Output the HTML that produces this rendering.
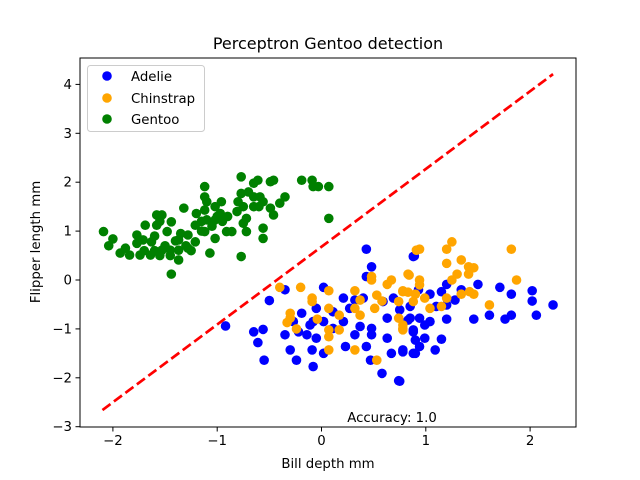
<!DOCTYPE html>
<html><head><meta charset="utf-8"><style>
body{margin:0;background:#fff;}
svg{display:block;font-family:"DejaVu Sans","Liberation Sans",sans-serif;}
</style></head><body>
<svg id="chart" width="640" height="480">
<rect width="640" height="480" fill="#fff"/>
</svg>
<script>
const adelieX=[0.43,0.48,0.43,0.88,-0.5,-0.35,-0.65,-0.56,-0.61,-0.55,-0.30,-0.24,-0.09,-0.08,0.02,0.02,-0.19,-0.35,-0.14,-0.05,-0.08,-0.05,0.21,0.27,0.21,0.23,0.32,0.43,0.48,0.48,0.47,0.58,0.74,0.63,0.63,0.67,0.78,0.88,0.9,0.83,0.69,0.59,0.40,0.32,0.11,0.11,-0.11,-0.27,-0.22,0.37,0.88,0.02,0.89,1.5,1.71,1.82,2.02,2.02,2.22,2.06,1.82,1.76,1.61,1.46,1.2,1.2,1.15,1.28,1.34,1.04,1.04,0.99,0.94,0.85,0.85,0.88,0.99,1.15,1.09,0.94,0.9,0.78,0.75,1.2,1.1,0.93,0.75,-0.92];
const adelieY=[0.63,0.27,0.07,0.48,-0.42,-0.2,-1.06,-1.01,-1.28,-1.64,-1.43,-1.64,-1.43,-1.77,-0.15,-1.5,-0.68,-1.12,-1.12,-0.58,-0.85,-1.19,-0.37,-0.58,-0.85,-1.36,-1.12,-1.36,-0.99,-1.12,-1.64,-1.91,-2.06,-0.78,-1.19,-1.5,-1.47,-1.5,-1.23,-0.82,-0.37,-0.44,-0.37,-0.41,-0.65,-0.99,-0.92,-0.85,-1.06,-0.95,-1.06,-0.85,0.49,-0.09,-0.15,-0.29,-0.22,-0.43,-0.51,-0.72,-0.72,-0.8,-0.72,-0.8,-0.8,-0.09,-0.24,-0.41,-0.2,-0.29,-0.85,-0.92,-0.78,-0.78,-0.54,-1.02,-1.19,-1.21,-1.43,-1.36,-1.5,-1.43,-2.07,-0.51,-0.54,-0.2,-0.61,-0.94];
const chinX=[-0.40,-0.20,-0.09,-0.09,0.07,0.07,-0.30,-0.30,-0.33,-0.24,-0.04,0.17,0.17,0.07,0.07,0.07,0.32,0.37,0.32,0.37,0.32,0.48,0.48,0.53,0.58,0.51,0.63,0.67,0.83,0.78,0.83,0.74,0.74,0.78,0.78,0.53,0.91,0.94,1.25,1.2,1.2,1.34,1.41,1.46,1.41,1.3,1.25,1.82,1.87,1.61,0.84,0.94,0.94,0.78,0.9,0.88,0.99,1.04,1.15,1.2,1.34,1.42,1.46,0.78];
const chinY=[-0.15,-0.15,-0.37,-0.44,-0.22,-0.58,-0.68,-0.78,-0.87,-1.0,-0.8,-0.72,-1.02,-1.02,-1.16,-1.43,-0.22,-0.41,-0.58,-0.72,-1.43,0.07,0.0,-0.31,-0.43,-0.58,-0.09,0.0,0.12,-0.22,-0.25,-0.44,-0.78,-0.92,-1.02,-1.64,0.61,0.63,0.78,0.63,0.34,0.41,0.27,0.25,0.12,0.12,0.0,0.63,0.0,-0.51,0.1,0.0,-0.1,-0.24,-0.29,-0.44,-0.37,-0.58,-0.54,-0.37,-0.29,-0.24,-0.29,-0.99];
const gentooX=[-2.09,-2.0,-2.04,-1.93,-1.88,-1.84,-1.77,-1.77,-1.74,-1.69,-1.71,-1.64,-1.63,-1.58,-1.53,-1.58,-1.53,-1.48,-1.44,-1.45,-1.37,-1.37,-1.37,-1.44,-1.32,-1.28,-1.28,-1.21,-1.21,-1.2,-1.12,-1.12,-1.12,-1.1,-1.12,-1.07,-1.02,-1.02,-1.02,-0.96,-0.97,-0.91,-0.86,-0.81,-0.77,-0.77,-0.75,-0.75,-0.72,-0.77,-0.72,-0.65,-0.61,-0.65,-0.59,-0.65,-0.56,-0.49,-0.46,-0.56,-0.56,-0.49,-0.46,-0.40,-0.35,-0.19,-0.09,-0.08,-0.03,0.07,0.07,-1.6,-1.55,-1.5,-1.45,-1.4,-1.3,-1.25,-1.15,-1.05,-1.0,-0.95,-1.1,-0.9,-1.15,-1.7,-1.6,-1.55,-1.35,-0.8,-0.7,-0.6];
const gentooY=[0.99,0.84,0.70,0.55,0.65,0.51,0.92,0.75,0.51,1.12,0.82,0.51,0.78,1.33,1.33,1.12,0.61,0.99,1.19,0.61,0.82,0.61,0.41,0.12,1.47,0.92,0.65,0.78,1.12,1.36,1.91,1.7,1.43,1.23,0.99,0.55,1.5,1.23,0.85,1.6,1.36,0.99,0.99,1.4,2.11,1.77,1.5,1.16,0.99,0.48,1.26,1.98,2.04,1.7,1.7,1.5,1.6,1.47,1.33,1.06,0.85,2.01,2.04,1.57,1.7,2.04,2.04,1.91,1.91,1.91,1.26,0.6,0.5,0.7,0.5,0.8,0.7,0.6,1.0,1.1,1.3,1.2,1.6,1.3,1.2,0.6,0.9,1.2,0.95,1.6,1.8,1.5];
const xTicks=[-2,-1,0,1,2];
const yTicks=[-3,-2,-1,0,1,2,3,4];
const lineX=[-2.1,2.22];
const lineSlope=1.59, lineIntercept=0.68;

const L=80,R=576,T=58,B=427;
const sx=v=>321.5+v*104.3;
const sy=v=>280-v*48.9;
const NS="http://www.w3.org/2000/svg";
const svg=document.getElementById('chart');
function mk(tag,attrs,parent){const e=document.createElementNS(NS,tag);for(const k in attrs)e.setAttribute(k,attrs[k]);(parent||svg).appendChild(e);return e;}

function drawSeries(xs,ys,color,name){
  const g=mk('g',{});
  
  
  xs.forEach((x,i)=>{
    const c=mk('circle',{cx:sx(x),cy:sy(ys[i]),r:4.8,fill:color},g);
    
    
  });
}
drawSeries(adelieX,adelieY,'#0000ff','adelie');
drawSeries(chinX,chinY,'#ffa500','chinstrap');
drawSeries(gentooX,gentooY,'#008000','gentoo');

const ln=mk('line',{x1:sx(lineX[0]),y1:sy(lineSlope*lineX[0]+lineIntercept),x2:sx(lineX[1]),y2:sy(lineSlope*lineX[1]+lineIntercept),stroke:'#ff0000','stroke-width':2.7,'stroke-dasharray':'10,4.3'});



const frame=mk('rect',{x:L,y:T,width:R-L,height:B-T,fill:'none',stroke:'#000','stroke-width':1});



xTicks.forEach(v=>{
  const x=sx(v);
  const t=mk('line',{x1:x,y1:B,x2:x,y2:B+4.5,stroke:'#000'});
  
  
  const tx=mk('text',{x:x,y:B+18,'text-anchor':'middle','font-size':13.3});
  tx.textContent=(v<0?'\u2212'+(-v):v);
  
  
});
yTicks.forEach(v=>{
  const y=sy(v);
  const t=mk('line',{x1:L-4.5,y1:y,x2:L,y2:y,stroke:'#000'});
  
  
  const tx=mk('text',{x:L-8,y:y+4.5,'text-anchor':'end','font-size':13.3});
  tx.textContent=(v<0?'\u2212'+(-v):v);
  
  
});
</script>
<svg style="position:absolute;left:0;top:0" width="640" height="480">
<text x="328" y="49" text-anchor="middle" font-size="16" font-family="DejaVu Sans, Liberation Sans, sans-serif">Perceptron Gentoo detection</text>
<text x="328" y="468" text-anchor="middle" font-size="13.3" font-family="DejaVu Sans, Liberation Sans, sans-serif">Bill depth mm</text>
<text transform="translate(40,242) rotate(-90)" text-anchor="middle" font-size="13.3" font-family="DejaVu Sans, Liberation Sans, sans-serif">Flipper length mm</text>
<text x="392" y="422" text-anchor="middle" font-size="13.3" font-family="DejaVu Sans, Liberation Sans, sans-serif">Accuracy: 1.0</text>
<g font-family="DejaVu Sans, Liberation Sans, sans-serif" font-size="13.3">
<rect x="87.5" y="65.5" width="117" height="66" rx="3" fill="#fff" fill-opacity="0.8" stroke="#ccc"/>
<g><circle cx="107" cy="76" r="4.8" fill="#0000ff"/><text x="131" y="81">Adelie</text></g>
<g><circle cx="107" cy="98" r="4.8" fill="#ffa500"/><text x="131" y="103">Chinstrap</text></g>
<g><circle cx="107" cy="119" r="4.8" fill="#008000"/><text x="131" y="124">Gentoo</text></g>
</g>
</svg>
</body></html>
